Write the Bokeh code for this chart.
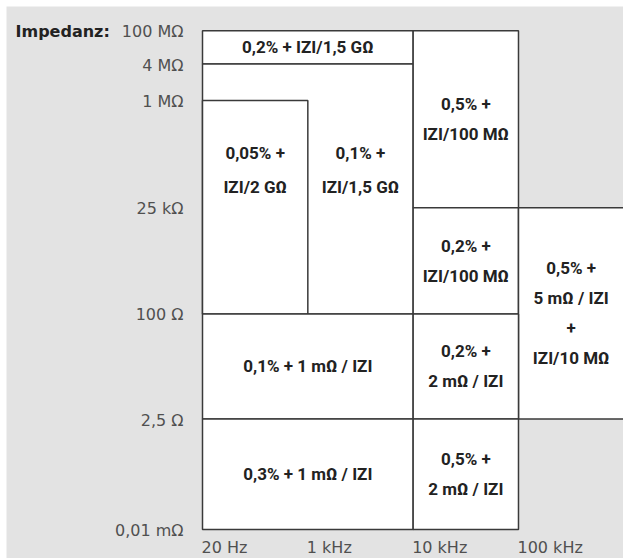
from bokeh.plotting import figure
from bokeh.models import ColumnDataSource, Range1d
from bokeh.core.properties import value
from bokeh.embed import file_html
from bokeh.resources import INLINE

# --- data ---------------------------------------------------------------
freq_labels = ["20 Hz", "1 kHz", "10 kHz", "100 kHz"]
freq_pos = [0, 1, 2, 3]

imp_labels = ["0,01 mΩ", "2,5 Ω", "100 Ω", "25 kΩ", "1 MΩ", "4 MΩ", "100 MΩ"]
imp_pos = [0, 1.03, 2.01, 3.0, 4.0, 4.34, 4.65]

# accuracy cells: frequency index span, impedance index span, text
cell_f0 = [0, 0, 0, 2, 2, 3, 0, 2, 0, 2]
cell_f1 = [2, 2, 1, 3, 3, 4, 2, 3, 2, 3]
cell_z0 = [5, 2, 2, 3, 2, 1, 1, 1, 0, 0]
cell_z1 = [6, 5, 4, 6, 3, 3, 2, 2, 1, 1]
cell_text = [
    "0,2% + IZI/1,5 GΩ",
    "",
    "",
    "0,5% +\nIZI/100 MΩ",
    "0,2% +\nIZI/100 MΩ",
    "0,5% +\n5 mΩ / IZI\n+\nIZI/10 MΩ",
    "0,1% + 1 mΩ / IZI",
    "0,2% +\n2 mΩ / IZI",
    "0,3% + 1 mΩ / IZI",
    "0,5% +\n2 mΩ / IZI",
]
# the two low-frequency high-impedance cells (text sits above their centre)
lf_text = ["0,05% +\nIZI/2 GΩ", "0,1% +\nIZI/1,5 GΩ"]
lf_f0 = [0, 1]
lf_f1 = [1, 2]

# --- layout -------------------------------------------------------------
GRAY = "#e3e3e3"
LINE = "#3a3a3a"
X_PX = 105.33   # pixels per frequency step
Y_PX = 107.25   # pixels per impedance step
X0, Y0 = 202, 529   # page pixel of (20 Hz, 0,01 mΩ)
W, H, M = 623, 558, 6

p = figure(width=W, height=H, output_backend="svg", toolbar_location=None,
           x_axis_location=None, y_axis_location=None,
           min_border_left=M, min_border_top=M, min_border_right=0, min_border_bottom=0,
           x_range=Range1d((M - X0) / X_PX, (W - X0) / X_PX),
           y_range=Range1d(-(H - Y0) / Y_PX, (Y0 - M) / Y_PX))
p.grid.visible = False
p.outline_line_color = None
p.background_fill_color = GRAY
p.border_fill_color = "white"

right_edge = p.x_range.end + 0.5
fx = lambda i: freq_pos[i] if i < len(freq_pos) else right_edge

left = [fx(a) for a in cell_f0]
right = [fx(b) for b in cell_f1]
bottom = [imp_pos[a] for a in cell_z0]
top = [imp_pos[b] for b in cell_z1]

src = ColumnDataSource(dict(left=left, right=right, bottom=bottom, top=top,
                            text=cell_text,
                            cx=[(l + min(r, freq_pos[-1] + 1)) / 2 for l, r in zip(left, right)],
                            cy=[(b + t) / 2 for b, t in zip(bottom, top)]))
p.quad(left="left", right="right", bottom="bottom", top="top", source=src,
       fill_color="white", line_color=LINE, line_width=1.5)

cell_font = value("Roboto")
p.text(x="cx", y="cy", text="text", source=src, text_font=cell_font,
       text_font_style="bold", text_font_size="17px", text_color="#222222",
       text_align="center", text_baseline="middle", text_line_height=1.5)

lf_y = imp_pos[3] + 0.35
p.text(x=[(a + b) / 2 for a, b in zip(lf_f0, lf_f1)], y=[lf_y] * len(lf_text),
       text=lf_text, text_font=cell_font, text_font_style="bold",
       text_font_size="17px", text_color="#222222", text_align="center",
       text_baseline="middle", text_line_height=1.7)

# impedance tick labels
tick_font = value("DejaVu Sans")
p.text(x=[freq_pos[0] - 19 / X_PX] * len(imp_labels), y=imp_pos, text=imp_labels,
       text_font=tick_font, text_font_size="16px", text_color="#505050",
       text_align="right", text_baseline="alphabetic", y_offset=1)
p.text(x=[freq_pos[0] - 187 / X_PX], y=[imp_pos[-1]], text=["Impedanz:"],
       text_font=tick_font, text_font_style="bold", text_font_size="16px",
       text_color="#222222", text_align="left", text_baseline="alphabetic", y_offset=1)

# frequency tick labels
p.text(x=freq_pos, y=[imp_pos[0]] * len(freq_pos), text=freq_labels,
       text_font=tick_font, text_font_size="16px", text_color="#505050",
       text_align="left", text_baseline="middle", y_offset=18, x_offset=-1)

open("out.html", "w").write(file_html(p, INLINE))
